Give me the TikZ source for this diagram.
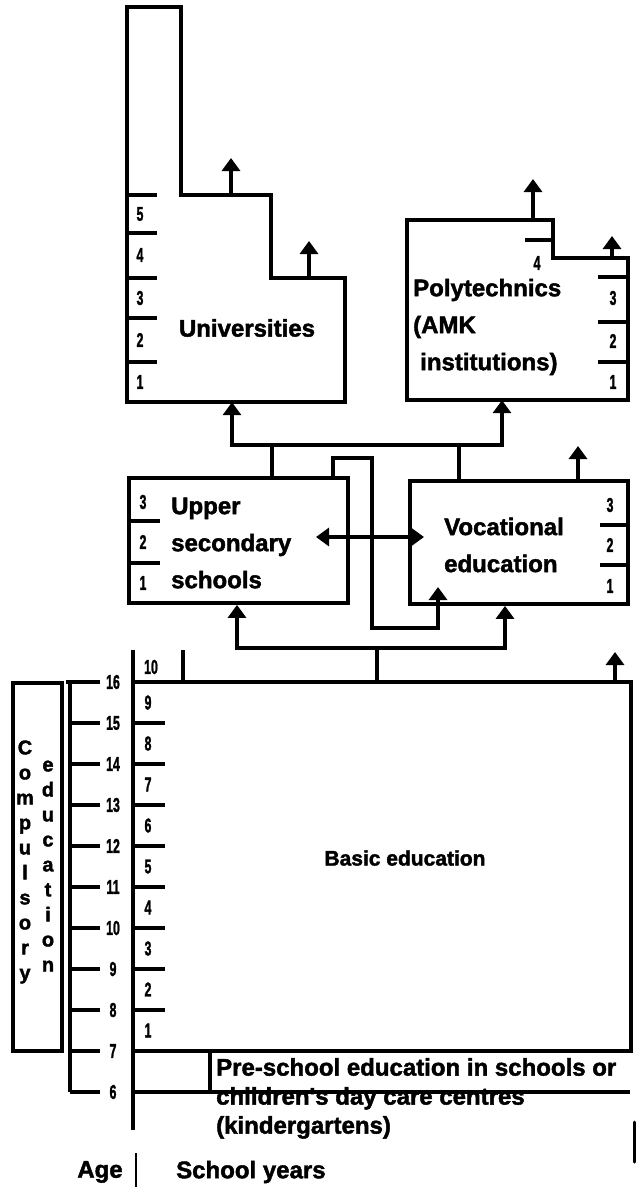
\documentclass[tikz,border=0pt]{standalone}
\usepackage{graphicx}
\usepackage{fontspec}
\setmainfont{Liberation Sans}
\newfontfamily\heavy[FakeBold=1.8]{Liberation Sans Bold}
\usetikzlibrary{arrows.meta,calc}
\newcommand{\narw}[1]{\scalebox{0.62}[1]{#1}}
\begin{document}
\begin{tikzpicture}[x=1pt,y=-1pt,
  ln/.style={line width=3.8pt},
  thin/.style={line width=3.2pt},
  arr/.style={line width=3.8pt,-{Triangle[width=18pt,length=13pt]}},
  arrtwo/.style={line width=3.8pt,{Triangle[width=18pt,length=13pt]}-{Triangle[width=18pt,length=13pt]}},
  box/.style={draw,line width=3.8pt,rectangle,inner sep=0pt},
  ghost/.style={rectangle,inner sep=0pt},
  lbl/.style={font=\heavy\fontsize{24}{37}\selectfont,inner sep=0pt},
  pre/.style={font=\heavy\fontsize{24}{29}\selectfont,inner sep=0pt},
  num/.style={font=\heavy\fontsize{20}{20}\selectfont,inner sep=0pt},
  vert/.style={font=\heavy\fontsize{20}{25}\selectfont,inner sep=0pt,align=center}]
\useasboundingbox[fill=white] (0,0) rectangle (636,1196);

% ---------- Universities ----------
\draw[ln] (127,7) -- (181,7) -- (181,195) -- (271,195) -- (271,278) -- (345,278) -- (345,402) -- (127,402) -- cycle;
\node[ghost,minimum width=218pt,minimum height=124pt] (univ) at (236,340) {};
\foreach \yy in {195,233,278,318,362} \draw[thin] (127,\yy) -- (157,\yy);
\foreach \yy/\d in {214/5,255/4,298/3,340/2,382/1} \node[num] (un\d) at (140,\yy) {\narw{\d}};
\node[lbl] (univt) at (247,328) {Universities};
\coordinate (us1) at (231,195); \coordinate (ue1) at (231,158);
\coordinate (us2) at (309,278); \coordinate (ue2) at (309,241);
\draw[arr] (us1) -- (ue1);
\draw[arr] (us2) -- (ue2);

% ---------- Polytechnics ----------
\draw[ln] (407,220) -- (553,220) -- (553,258) -- (628,258) -- (628,400) -- (407,400) -- cycle;
\node[ghost,minimum width=221pt,minimum height=142pt] (poly) at (517.5,329) {};
\draw[thin] (525,240) -- (553,240);
\node[num] (p4) at (537,263) {\narw{4}};
\foreach \yy in {277,322,362} \draw[thin] (598,\yy) -- (628,\yy);
\foreach \yy/\d in {298/3,341/2,382/1} \node[num] (pn\d) at (613,\yy) {\narw{\d}};
\node[lbl,align=left,anchor=west] (polyt) at (413,327) {Polytechnics\\(AMK\\\hspace*{7pt}institutions)};
\coordinate (ps1) at (533,220); \coordinate (pe1) at (533,179);
\coordinate (ps2) at (612,258); \coordinate (pe2) at (612,236);
\draw[arr] (ps1) -- (pe1);
\draw[arr] (ps2) -- (pe2);

% ---------- Upper secondary ----------
\node[box,minimum width=219pt,minimum height=125pt] (us) at (238.5,540.5) {};
\draw[thin] (129,521) -- (160,521);
\draw[thin] (129,563) -- (160,563);
\foreach \yy/\d in {502/3,542/2,583/1} \node[num] (sn\d) at (143,\yy) {\narw{\d}};
\node[lbl,align=left,anchor=west] (ust) at (171,543) {Upper\\secondary\\schools};

% ---------- Vocational ----------
\node[box,minimum width=218pt,minimum height=123pt] (voc) at (519,542.5) {};
\draw[thin] (600,525) -- (628,525);
\draw[thin] (600,565) -- (628,565);
\foreach \yy/\d in {505/3,545/2,586/1} \node[num] (vn\d) at (610,\yy) {\narw{\d}};
\node[lbl,align=left,anchor=west] (voct) at (444,545) {Vocational\\education};
\coordinate (va) at (578,446);
\draw[arr] (voc.north -| va) -- (va);

% ---------- connectors to higher education ----------
\coordinate (j1) at (272,445); \coordinate (j2) at (459,445);
\coordinate (ua) at (232,445); \coordinate (pa) at (502,445);
\draw[ln] (us.north -| j1) -- (j1);
\draw[ln] (voc.north -| j2) -- (j2);
\draw[arr] (j1) -- (ua) -- (univ.south -| ua);
\draw[arr] (j1) -- (pa) -- (poly.south -| pa);

% loop from upper secondary to vocational
\coordinate (l1) at (333,458); \coordinate (l2) at (372,458);
\coordinate (l3) at (372,628); \coordinate (l4) at (438,628);
\coordinate (l5) at (438,587);
\draw[arr] (us.north -| l1) -- (l1) -- (l2) -- (l3) -- (l4) -- (l5);

% double arrow
\coordinate (d1) at (316,537); \coordinate (d2) at (424,537);
\draw[arrtwo] (d1) -- (d2);

% ---------- Basic education ----------
\node[box,minimum width=498pt,minimum height=369pt] (basic) at (382,866.5) {};
\node[lbl,font=\heavy\fontsize{21}{25}\selectfont] (basict) at (405,858) {Basic education};
\coordinate (b1) at (377,648); \coordinate (b2) at (237,648); \coordinate (b3) at (505,648);
\draw[ln] (basic.north -| b1) -- (b1);
\draw[arr] (b1) -- (b2) -- (us.south -| b2);
\draw[arr] (b1) -- (b3) -- (voc.south -| b3);
\coordinate (ba) at (615,652);
\draw[arr] (basic.north -| ba) -- (ba);

% school years axis
\draw[ln] (133,650) -- (133,1130);
\draw[ln] (183,650) -- (183,682);
\node[num] (y10) at (151,667) {\narw{10}};
\foreach \yy in {723,764,805,846,887,928,969,1010} \draw[thin] (133,\yy) -- (165,\yy);
\foreach \yy/\d in {702.5/9,743.5/8,784.5/7,825.5/6,866.5/5,907.5/4,948.5/3,989.5/2,1030.5/1}
  \node[num] (yn\d) at (148,\yy) {\narw{\d}};

% pre-school
\draw[ln] (210,1051) -- (210,1092);
\draw[ln] (133,1092) -- (630,1092);
\node[pre,align=left,anchor=north west] (pret) at (216,1058) {Pre-school education in schools or\\children's day care centres\\(kindergartens)};
\draw[line width=3pt,line cap=round] (634,1122) -- (634,1162);

% age axis
\draw[ln] (66,682) -- (100,682);
\draw[ln] (70,682) -- (70,1092);
\foreach \k/\a in {0/16,1/15,2/14,3/13,4/12,5/11,6/10,7/9,8/8,9/7,10/6}{
  \draw[thin] (70,682+41*\k) -- (100,682+41*\k);
  \node[num] (age\a) at (113,682+41*\k) {\narw{\a}};
}

% compulsory education
\node[box,minimum width=49pt,minimum height=368pt] (cbox) at (37.5,867) {};
\node[vert] (compt) at (25,862) {C\\o\\m\\p\\u\\l\\s\\o\\r\\y};
\node[vert] (edut) at (48,866) {e\\d\\u\\c\\a\\t\\i\\o\\n};

% footer
\node[lbl] (aget) at (100,1172) {Age};
\draw[line width=2.5pt] (136,1153) -- (136,1187);
\node[lbl,anchor=west] (syt) at (176,1172) {School years};
\end{tikzpicture}
\end{document}
